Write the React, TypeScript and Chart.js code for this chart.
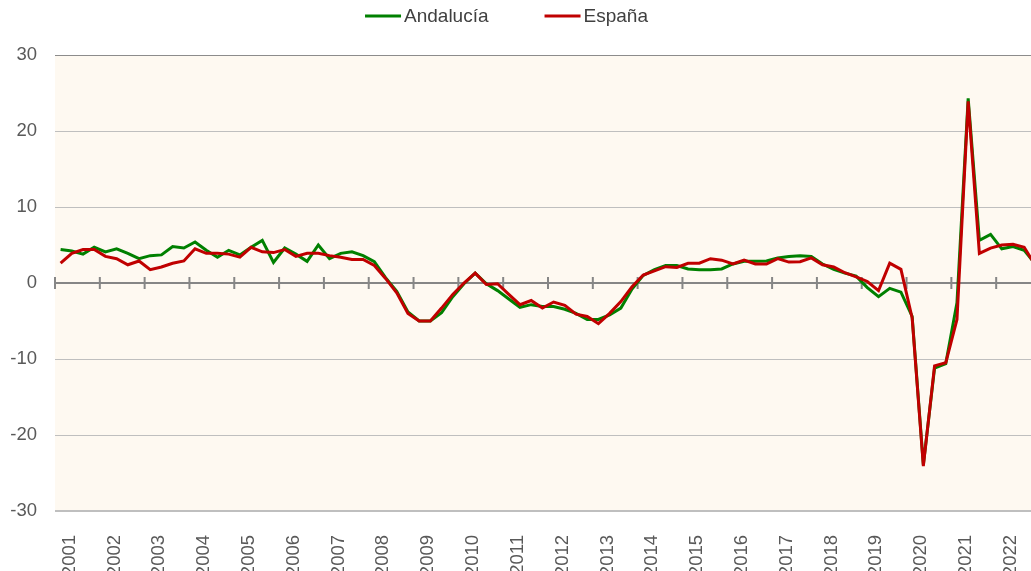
import React, { useEffect, useRef } from 'react';
import { Chart, registerables } from 'chart.js';

Chart.register(...registerables);

// ---- Data ----
const yearLabels = [
  '2001', '2002', '2003', '2004', '2005', '2006', '2007', '2008', '2009', '2010', '2011',
  '2012', '2013', '2014', '2015', '2016', '2017', '2018', '2019', '2020', '2021', '2022',
];
const quarterNames = ['T1', 'T2', 'T3', 'T4'];
const categories = yearLabels.flatMap((y) => quarterNames.map((q) => `${y} ${q}`));

const andalucia = [
  4.4, 4.2, 3.8, 4.7, 4.1, 4.5, 3.9, 3.2, 3.6, 3.7, 4.8, 4.6, 5.4, 4.3, 3.4, 4.3,
  3.7, 4.7, 5.6, 2.7, 4.6, 3.8, 2.85, 5.0, 3.2, 3.9, 4.1, 3.6, 2.8, 0.7, -1.1, -3.8,
  -5.0, -5.0, -3.9, -1.8, -0.1, 1.3, -0.1, -1.0, -2.1, -3.2, -2.85, -3.1, -3.1, -3.45, -4.0, -4.8,
  -4.8, -4.2, -3.3, -0.8, 1.0, 1.75, 2.3, 2.3, 1.85, 1.75, 1.75, 1.85, 2.5, 2.85, 2.85, 2.9,
  3.3, 3.5, 3.6, 3.5, 2.5, 1.8, 1.3, 0.9, -0.6, -1.8, -0.7, -1.2, -4.4, -23.9, -11.2, -10.6,
  -2.6, 24.3, 5.6, 6.4, 4.5, 4.8, 4.3, 2.5,
];
const espana = [
  2.6, 3.9, 4.4, 4.4, 3.5, 3.2, 2.4, 2.9, 1.75, 2.1, 2.6, 2.9, 4.5, 3.9, 3.9, 3.8,
  3.4, 4.7, 4.1, 4.0, 4.4, 3.5, 3.9, 3.9, 3.6, 3.4, 3.1, 3.1, 2.3, 0.6, -1.3, -4.0,
  -5.0, -5.0, -3.3, -1.5, 0.0, 1.3, -0.2, -0.1, -1.5, -2.85, -2.3, -3.3, -2.5, -2.95, -4.1, -4.4,
  -5.35, -4.0, -2.45, -0.5, 1.05, 1.6, 2.15, 2.05, 2.6, 2.6, 3.2, 3.0, 2.5, 3.0, 2.5, 2.5,
  3.2, 2.75, 2.8, 3.3, 2.4, 2.1, 1.35, 0.8, 0.2, -1.0, 2.6, 1.8, -4.6, -24.1, -10.9, -10.5,
  -4.8, 23.9, 3.9, 4.6, 5.0, 5.1, 4.7, 2.3,
];
const seriesNames = ['Andalucía', 'España'];
const seriesColors = ['#008000', '#C00000'];

// ---- Styling ----
const FONT = '"Liberation Sans", Arial, sans-serif';
const CANVAS_W = 1041;
const CANVAS_H = 600;
const PLOT_LEFT = 55;
const PLOT_TOP = 55;
const PLOT_BOTTOM = 511;
const LEGEND_CENTER_X = 506.5;
const LEGEND_Y = 16;

const plotBgPlugin = {
  id: 'plotBg',
  beforeDraw(chart: any) {
    const { ctx, chartArea: a } = chart;
    ctx.save();
    ctx.fillStyle = '#FEF9F1';
    ctx.fillRect(a.left, a.top, a.right - a.left, a.bottom - a.top);
    ctx.restore();
  },
};

const zeroTicksPlugin = {
  id: 'zeroTicks',
  beforeDatasetsDraw(chart: any) {
    const { ctx } = chart;
    const x = chart.scales.x;
    const y = chart.scales.y;
    const y0 = y.getPixelForValue(0);
    const step = x.getPixelForValue(1) - x.getPixelForValue(0);
    ctx.save();
    ctx.strokeStyle = '#868686';
    ctx.lineWidth = 2;
    ctx.beginPath();
    for (let i = 0; i <= categories.length; i += 4) {
      const px = x.getPixelForValue(0) + step * i - step / 2;
      ctx.moveTo(px, y0 - 6);
      ctx.lineTo(px, y0 + 6);
    }
    ctx.stroke();
    ctx.restore();
  },
};

const customLegendPlugin = {
  id: 'customLegend',
  afterDraw(chart: any) {
    const { ctx } = chart;
    const lineW = 36;
    const gap = 3;
    const spacing = 56;
    ctx.save();
    ctx.font = `19px ${FONT}`;
    const items = seriesNames.map((name, i) => ({
      name,
      color: seriesColors[i],
      w: ctx.measureText(name).width,
    }));
    const total =
      items.reduce((s, it) => s + lineW + gap + it.w, 0) + spacing * (items.length - 1);
    let x = LEGEND_CENTER_X - total / 2;
    for (const it of items) {
      ctx.strokeStyle = it.color;
      ctx.lineWidth = 3;
      ctx.lineCap = 'butt';
      ctx.beginPath();
      ctx.moveTo(x, LEGEND_Y);
      ctx.lineTo(x + lineW, LEGEND_Y);
      ctx.stroke();
      ctx.fillStyle = '#404040';
      ctx.textBaseline = 'middle';
      ctx.textAlign = 'left';
      ctx.fillText(it.name, x + lineW + gap, LEGEND_Y + 1);
      x += lineW + gap + it.w + spacing;
    }
    ctx.restore();
  },
};

export default function App() {
  const canvasRef = useRef<HTMLCanvasElement | null>(null);

  useEffect(() => {
    if (!canvasRef.current) return;
    const chart = new Chart(canvasRef.current, {
      type: 'line',
      data: {
        labels: categories,
        datasets: [
          {
            label: seriesNames[0],
            data: andalucia,
            borderColor: seriesColors[0],
            backgroundColor: seriesColors[0],
            borderWidth: 3,
            pointRadius: 0,
            tension: 0,
            order: 1,
          },
          {
            label: seriesNames[1],
            data: espana,
            borderColor: seriesColors[1],
            backgroundColor: seriesColors[1],
            borderWidth: 3,
            pointRadius: 0,
            tension: 0,
            order: 0,
          },
        ],
      },
      options: {
        responsive: false,
        animation: false,
        layout: { padding: { top: PLOT_TOP, left: 0, right: 0, bottom: 0 } },
        plugins: {
          legend: { display: false },
          tooltip: { enabled: false },
        },
        scales: {
          x: {
            type: 'category',
            offset: true,
            grid: { display: false, drawTicks: false },
            border: { display: false },
            ticks: {
              autoSkip: false,
              minRotation: 90,
              maxRotation: 90,
              padding: 24,
              labelOffset: 9,
              color: '#595959',
              font: { family: FONT, size: 18.5 },
              callback: (_v: any, index: number) =>
                index % 4 === 0 ? yearLabels[index / 4] : '',
            },
            afterFit: (scale: any) => {
              scale.height = CANVAS_H - PLOT_BOTTOM;
              scale.paddingLeft = 0;
              scale.paddingRight = 0;
            },
          },
          y: {
            min: -30,
            max: 30,
            ticks: {
              stepSize: 10,
              padding: 18,
              color: '#595959',
              font: { family: FONT, size: 18.5 },
            },
            border: { display: false },
            grid: {
              drawTicks: false,
              color: (ctx: any) => {
                const v = ctx.tick ? ctx.tick.value : null;
                if (v === 0) return '#868686';
                if (v === 30) return '#8c8c8c';
                return '#BFBFBF';
              },
              lineWidth: (ctx: any) => {
                const v = ctx.tick ? ctx.tick.value : null;
                if (v === 0) return 2;
                if (v === -30) return 2;
                return 1;
              },
            },
            afterFit: (scale: any) => {
              scale.width = PLOT_LEFT;
            },
          },
        },
      },
      plugins: [plotBgPlugin, zeroTicksPlugin, customLegendPlugin],
    } as any);
    return () => chart.destroy();
  }, []);

  return (
    <div
      style={{
        position: 'fixed',
        left: 0,
        top: 0,
        width: 1031,
        height: 571,
        overflow: 'hidden',
        background: '#ffffff',
      }}
    >
      <canvas
        ref={canvasRef}
        width={CANVAS_W}
        height={CANVAS_H}
        style={{ width: CANVAS_W, height: CANVAS_H, display: 'block' }}
      />
    </div>
  );
}
